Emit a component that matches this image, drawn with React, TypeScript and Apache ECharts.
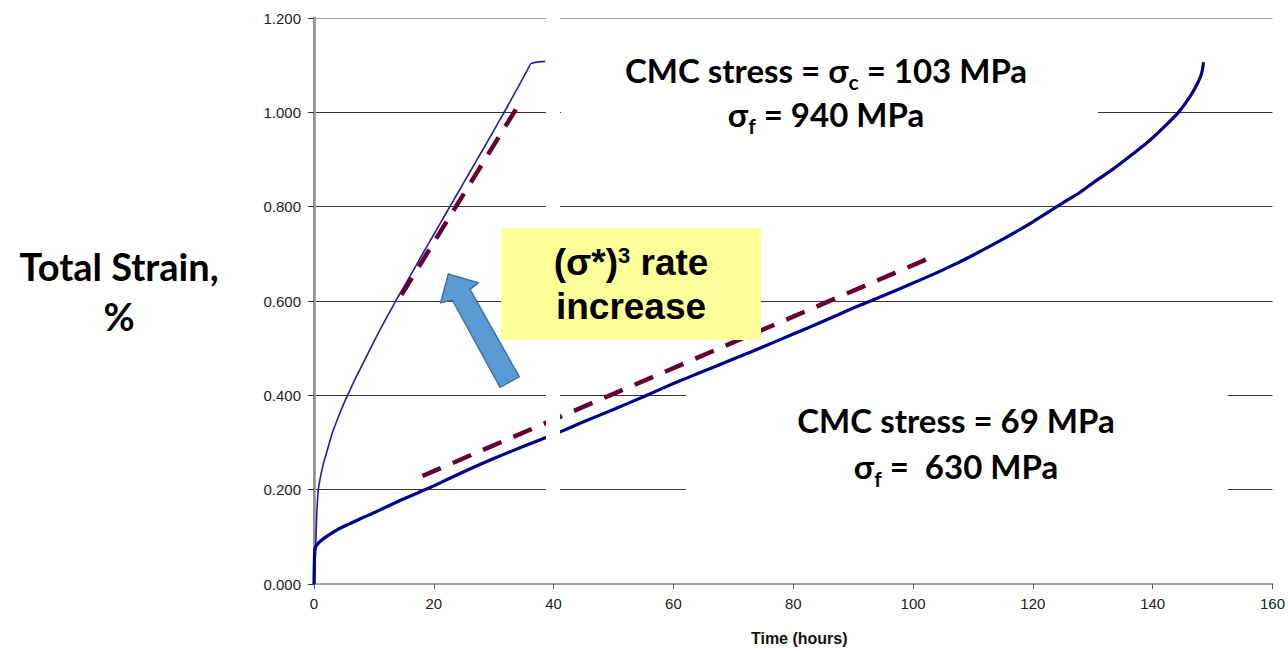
import React, { useEffect, useRef } from "react";
import * as echarts from "echarts";

// Creep test at CMC stress 103 MPa (fibre stress 940 MPa)
const timeHigh = [0, 0.1, 0.2, 0.3, 0.45, 0.7, 1, 1.5, 2, 3, 4, 5, 6, 7, 8, 10, 12, 14, 16, 18, 20, 22, 24, 26, 28, 30, 32, 34, 35.5, 36.2, 37, 38.6];
const strainHigh = [0, 0.02, 0.05, 0.085, 0.145, 0.198, 0.222, 0.252, 0.274, 0.318, 0.352, 0.383, 0.411, 0.438, 0.463, 0.514, 0.562, 0.608, 0.652, 0.697, 0.741, 0.785, 0.829, 0.873, 0.917, 0.961, 1.006, 1.052, 1.087, 1.103, 1.106, 1.108];

// Creep test at CMC stress 69 MPa (fibre stress 630 MPa)
const timeLow = [0, 0.05, 0.15, 0.5, 1, 2, 4, 6, 8, 10, 12, 14, 16, 18, 20, 25, 30, 35, 38, 41, 45, 50, 55, 60, 65, 70, 75, 80, 85, 90, 95, 100, 105, 110, 115, 120, 125, 127.7, 130, 133.2, 135, 138.8, 140, 142, 144.3, 146, 147.1, 148, 148.3, 148.5];
const strainLow = [0, 0.04, 0.075, 0.083, 0.09, 0.1, 0.116, 0.128, 0.14, 0.151, 0.163, 0.175, 0.186, 0.197, 0.208, 0.238, 0.266, 0.292, 0.307, 0.322, 0.344, 0.37, 0.397, 0.425, 0.451, 0.477, 0.503, 0.53, 0.557, 0.585, 0.611, 0.638, 0.666, 0.697, 0.731, 0.768, 0.808, 0.829, 0.85, 0.878, 0.895, 0.933, 0.946, 0.97, 1.0, 1.029, 1.052, 1.076, 1.09, 1.106];

// Steady-state rate guide lines
const guideHighTime = [14.6, 34.8];
const guideHighStrain = [0.613, 1.029];
const guideLowTime = [18.1, 102.9];
const guideLowStrain = [0.229, 0.692];

const xTicks = { min: 0, max: 160, interval: 20 };
const yTicks = { min: 0, max: 1.2, interval: 0.2 };

const MAROON = "#660033";
const CAL = "Lato, 'Open Sans', sans-serif";
const ARIAL = "'Liberation Sans', Arial, sans-serif";

const zip = (xs: number[], ys: number[]) => xs.map((x, i) => [x, ys[i]]);

export default function App() {
  const ref = useRef<HTMLDivElement>(null);

  useEffect(() => {
    if (!ref.current) return;
    const chart = echarts.init(ref.current, null, { renderer: "svg" });

    const note = (lh: number) => ({
      k: { fontFamily: CAL, fontWeight: "bold", fontSize: 33, color: "#000", lineHeight: lh },
      m: { fontFamily: CAL, fontWeight: "bold", fontSize: 33, color: MAROON, lineHeight: lh },
      sub: { fontFamily: CAL, fontWeight: "bold", fontSize: 21, color: MAROON, lineHeight: 18, verticalAlign: "bottom" },
    });

    chart.setOption({
      animation: false,
      backgroundColor: "#fff",
      grid: { left: 314, right: 14, top: 18, bottom: 63, containLabel: false },
      xAxis: [
        {
          type: "value",
          min: xTicks.min,
          max: xTicks.max,
          interval: xTicks.interval,
          name: "Time (hours)",
          nameLocation: "middle",
          nameGap: 46,
          nameTextStyle: { fontFamily: "'Liberation Sans Narrow', 'Liberation Sans', Arial", fontWeight: "bold", fontSize: 16, color: "#111", padding: [0, 0, 0, 12] },
          axisLine: { show: true, lineStyle: { color: "#7f7f7f", width: 2 } },
          axisTick: { show: true, length: 5, inside: false, lineStyle: { color: "#555" } },
          axisLabel: { fontFamily: ARIAL, fontSize: 15, color: "#222", margin: 12 },
          splitLine: { show: false },
        },
        {
          type: "value",
          position: "top",
          min: xTicks.min,
          max: xTicks.max,
          axisLine: { show: true, lineStyle: { color: "#a0a0a0", width: 2 } },
          axisTick: { show: false },
          axisLabel: { show: false },
          splitLine: { show: false },
        },
      ],
      yAxis: [
        {
          type: "value",
          min: yTicks.min,
          max: yTicks.max,
          interval: yTicks.interval,
          axisLine: { show: true, lineStyle: { color: "#a6a6a6", width: 3 } },
          axisTick: { show: true, length: 6, inside: false, lineStyle: { color: "#333" } },
          axisLabel: { fontFamily: ARIAL, fontSize: 15, color: "#222", margin: 13, formatter: (v: number) => v.toFixed(3) },
          splitLine: { show: true, lineStyle: { color: ["#555", "#333", "#333", "#333", "#333", "#333", "#a0a0a0"], width: 1 } },
        },
        {
          type: "value",
          position: "right",
          min: yTicks.min,
          max: yTicks.max,
          axisLine: { show: true, lineStyle: { color: "#8c8c8c", width: 1.5 } },
          axisTick: { show: false },
          axisLabel: { show: false },
          splitLine: { show: false },
        },
      ],
      series: [
        {
          type: "line",
          name: "103 MPa",
          data: zip(timeHigh, strainHigh),
          showSymbol: false,
          smooth: 0.2,
          lineStyle: { color: "#1f1fa6", width: 1.6 },
          z: 3,
        },
        {
          type: "line",
          name: "69 MPa",
          data: zip(timeLow, strainLow),
          showSymbol: false,
          smooth: 0.2,
          lineStyle: { color: "#00008b", width: 3.2 },
          z: 3,
        },
        {
          type: "line",
          name: "guide 103",
          data: zip(guideHighTime, guideHighStrain),
          showSymbol: false,
          lineStyle: { color: MAROON, width: 4.5, type: [20, 13] },
          z: 4,
        },
        {
          type: "line",
          name: "guide 69",
          data: zip(guideLowTime, guideLowStrain),
          showSymbol: false,
          lineStyle: { color: MAROON, width: 4.5, type: [20, 13] },
          z: 4,
        },
      ],
      graphic: [
        // white strip and text-box backgrounds that mask the grid
        { type: "rect", z: 100, shape: { x: 546, y: 8, width: 14, height: 575 }, style: { fill: "#fff" } },
        { type: "rect", z: 100, shape: { x: 561, y: 21, width: 537, height: 128 }, style: { fill: "#fff" } },
        { type: "rect", z: 100, shape: { x: 686, y: 388, width: 542, height: 122 }, style: { fill: "#fff" } },
        // yellow call-out
        { type: "rect", z: 100, shape: { x: 501, y: 228, width: 260, height: 112 }, style: { fill: "#ffff99" } },
        {
          type: "text",
          z: 101,
          x: 631,
          y: 284,
          style: {
            text: "{t|(σ*)}{s|3}{t| rate}\n{t|increase}",
            align: "center",
            verticalAlign: "middle",
            rich: {
              t: { fontFamily: ARIAL, fontWeight: "bold", fontSize: 37, color: MAROON, lineHeight: 44 },
              s: { fontFamily: ARIAL, fontWeight: "bold", fontSize: 22, color: MAROON, lineHeight: 44, padding: [0, 0, 14, 0] },
            },
          },
        },
        // block arrow
        {
          type: "polygon",
          z: 101,
          shape: {
            points: [
              [448.3, 274],
              [478.3, 282.7],
              [470, 289.3],
              [519.3, 376.7],
              [500, 387.3],
              [452.3, 300],
              [440.7, 302.7],
            ],
          },
          style: { fill: "#5b9bd5", stroke: "#41719c", lineWidth: 1.5 },
        },
        // stress annotations
        {
          type: "text",
          z: 101,
          x: 826,
          y: 92,
          style: {
            text: "{k|CMC stress = }{m|σ}{sub|c}{m| =}{k| 103 MPa}\n{m|σ}{sub|f}{k| = 940 MPa}",
            align: "center",
            verticalAlign: "middle",
            rich: note(44),
          },
        },
        {
          type: "text",
          z: 101,
          x: 956,
          y: 443,
          style: {
            text: "{k|CMC stress = 69 MPa}\n{m|σ}{sub|f}{k| =  630 MPa}",
            align: "center",
            verticalAlign: "middle",
            rich: note(46),
          },
        },
        // y-axis title
        {
          type: "text",
          z: 101,
          x: 119,
          y: 291,
          style: {
            text: "Total Strain,\n%",
            align: "center",
            verticalAlign: "middle",
            fontFamily: CAL,
            fontWeight: "bold",
            fontSize: 38,
            lineHeight: 50,
            fill: "#000",
          },
        },
      ],
    });

    return () => chart.dispose();
  }, []);

  return <div ref={ref} style={{ position: "fixed", left: 0, top: 0, width: 1288, height: 651 }} />;
}
